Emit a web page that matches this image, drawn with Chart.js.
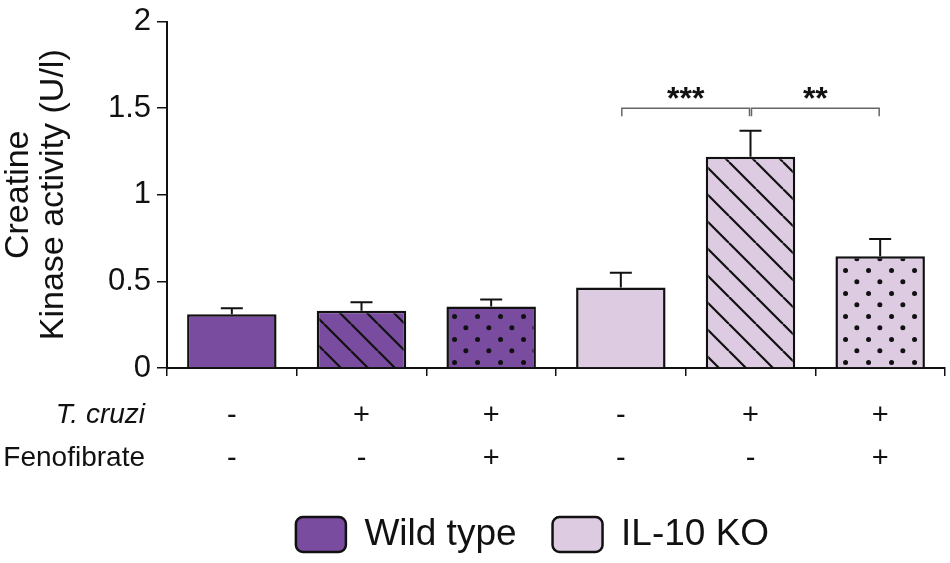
<!DOCTYPE html>
<html>
<head>
<meta charset="utf-8">
<script src="https://cdn.jsdelivr.net/npm/chart.js@4.4.1/dist/chart.umd.min.js"></script>
<style>
    body { margin: 0; background: #fff; }
    #wrap { width: 950px; height: 563px; }
</style>
</head>
<body>
<div id="wrap"><canvas id="ckChart"></canvas></div>
<script>
//chart data
var groupNames = ['Wild type', 'IL-10 KO'];
var cruziRow = ['-', '+', '+', '-', '+', '+'];
var fenoRow = ['-', '-', '+', '-', '-', '+'];
var wildValues = [0.31, 0.33, 0.355, null, null, null];
var wildErrors = [0.035, 0.05, 0.04, null, null, null];
var koValues = [null, null, null, 0.465, 1.22, 0.645];
var koErrors = [null, null, null, 0.085, 0.15, 0.1];
var fillKinds = ['solid', 'hatch', 'dots', 'solid', 'hatch', 'dots'];
var yTicks = [0, 0.5, 1, 1.5, 2];

//significance brackets
var sigFrom = [3, 4];
var sigTo = [4, 5];
var sigText = ['***', '**'];
var sigLevel = 1.5;

var darkPurple = '#7a4ca0';
var lightPurple = '#ddcbe2';
var fontName = '"Liberation Sans", Arial, sans-serif';

Chart.defaults.font.family = fontName;
Chart.defaults.color = '#111';

//bar fill (solid / hatch / dots)
function makeFill(color, kind) {
    if (kind == 'solid') {
        return color;
    }
    var tile = document.createElement('canvas');
    var tctx = tile.getContext('2d');
    if (kind == 'hatch') {
        var s = 27;
        tile.width = s;
        tile.height = s;
        tctx.fillStyle = color;
        tctx.fillRect(0, 0, s, s);
        tctx.strokeStyle = '#111';
        tctx.lineWidth = 2.2;
        tctx.beginPath();
        for (var k = -1; k <= 1; k++) {
            tctx.moveTo(k * s, 0);
            tctx.lineTo(k * s + s, s);
        }
        tctx.stroke();
    } else {
        var d = 23.4;
        tile.width = d;
        tile.height = d;
        tctx.fillStyle = color;
        tctx.fillRect(0, 0, d, d);
        tctx.fillStyle = '#111';
        tctx.beginPath();
        tctx.arc(d / 4, d / 4, 2.5, 0, Math.PI * 2);
        tctx.arc(d * 3 / 4, d * 3 / 4, 2.5, 0, Math.PI * 2);
        tctx.fill();
    }
    return tctx.createPattern(tile, 'repeat');
}

var wildFills = fillKinds.map(function (k) { return makeFill(darkPurple, k); });
var koFills = fillKinds.map(function (k) { return makeFill(lightPurple, k); });

var xLabels = cruziRow.map(function (c, i) { return [c, fenoRow[i]]; });

//error bars (upper only)
var errorBars = {
    id: 'errorBars',
    afterDatasetsDraw: function (chart) {
        var ctx = chart.ctx;
        var yScale = chart.scales.y;
        var errSets = [wildErrors, koErrors];
        ctx.save();
        ctx.strokeStyle = '#111';
        ctx.lineWidth = 2;
        chart.data.datasets.forEach(function (ds, di) {
            var meta = chart.getDatasetMeta(di);
            meta.data.forEach(function (bar, i) {
                var v = ds.data[i];
                if (v == null) return;
                var top = yScale.getPixelForValue(v + errSets[di][i]);
                ctx.beginPath();
                ctx.moveTo(bar.x, bar.y);
                ctx.lineTo(bar.x, top);
                ctx.moveTo(bar.x - 11, top);
                ctx.lineTo(bar.x + 11, top);
                ctx.stroke();
            });
        });
        ctx.restore();
    }
};

//*** / ** brackets
var sigBrackets = {
    id: 'sigBrackets',
    afterDatasetsDraw: function (chart) {
        var ctx = chart.ctx;
        var xScale = chart.scales.x;
        var y = chart.scales.y.getPixelForValue(sigLevel);
        ctx.save();
        for (var i = 0; i < sigFrom.length; i++) {
            var x1 = xScale.getPixelForValue(sigFrom[i]) + 1;
            var x2 = xScale.getPixelForValue(sigTo[i]) - 1;
            ctx.strokeStyle = '#666';
            ctx.lineWidth = 1.5;
            ctx.beginPath();
            ctx.moveTo(x1, y + 8);
            ctx.lineTo(x1, y);
            ctx.lineTo(x2, y);
            ctx.lineTo(x2, y + 8);
            ctx.stroke();
            ctx.fillStyle = '#111';
            ctx.font = 'bold 32px ' + fontName;
            ctx.textAlign = 'center';
            ctx.textBaseline = 'middle';
            ctx.fillText(sigText[i], (x1 + x2) / 2, y - 8);
        }
        ctx.restore();
    }
};

//row names on the left of the x labels
var rowNames = {
    id: 'rowNames',
    afterDraw: function (chart) {
        var ctx = chart.ctx;
        var xs = chart.scales.x;
        var y0 = xs.top + 8 + 18 + 21.5;
        ctx.save();
        ctx.fillStyle = '#111';
        ctx.textAlign = 'right';
        ctx.textBaseline = 'middle';
        ctx.font = 'italic 28px ' + fontName;
        ctx.fillText('T. cruzi', 145, y0);
        ctx.font = '28px ' + fontName;
        ctx.fillText('Fenofibrate', 145, y0 + 43);
        ctx.restore();
    }
};

//legend is centred a bit right of the canvas centre
var legendShift = {
    id: 'legendShift',
    afterLayout: function (chart) {
        chart.legend.left = 120;
    }
};

var ctx = document.getElementById('ckChart').getContext('2d');
var myChart = new Chart(ctx, {
    type: 'bar',
    data: {
        labels: xLabels,
        datasets: [
            {
                label: groupNames[0],
                data: wildValues,
                backgroundColor: wildFills,
                borderColor: '#111',
                borderWidth: 2.5
            },
            {
                label: groupNames[1],
                data: koValues,
                backgroundColor: koFills,
                borderColor: '#111',
                borderWidth: 2.5
            }]
    },
    options: {
        animation: false,
        responsive: true,
        maintainAspectRatio: false,
        grouped: false,
        barPercentage: 0.69,
        categoryPercentage: 1,
        layout: {
            padding: { top: 11, right: 5, bottom: 0, left: 0 }
        },
        plugins: {
            legend: {
                position: 'bottom',
                labels: {
                    boxWidth: 50,
                    boxHeight: 35,
                    padding: 36,
                    useBorderRadius: true,
                    borderRadius: 7,
                    color: '#111',
                    font: { size: 37 }
                }
            },
            tooltip: { enabled: false }
        },
        scales: {
            x: {
                grid: { drawOnChartArea: false, tickLength: 8, color: '#111', lineWidth: 1.5 },
                border: { color: '#111', width: 2 },
                ticks: { color: '#111', padding: 18, maxRotation: 0, autoSkip: false, font: { size: 29, lineHeight: 1.5 } },
                afterFit: function (s) { s.height = 112; }
            },
            y: {
                min: 0,
                max: 2,
                grid: { drawOnChartArea: false, tickLength: 10, color: '#111', lineWidth: 1.5 },
                border: { color: '#111', width: 2 },
                ticks: {
                    color: '#111',
                    padding: 6,
                    font: { size: 31, lineHeight: 1 },
                    callback: function (value) { return String(value); }
                },
                afterBuildTicks: function (axis) {
                    axis.ticks = yTicks.map(function (v) { return { value: v }; });
                },
                title: {
                    display: true,
                    text: ['Creatine', 'Kinase activity (U/l)'],
                    color: '#111',
                    font: { size: 34, lineHeight: 1.04 },
                    padding: { top: 1, bottom: 0 }
                },
                afterFit: function (s) { s.width = 167; }
            }
        }
    },
    plugins: [errorBars, sigBrackets, rowNames, legendShift]
});
</script>
</body>
</html>
